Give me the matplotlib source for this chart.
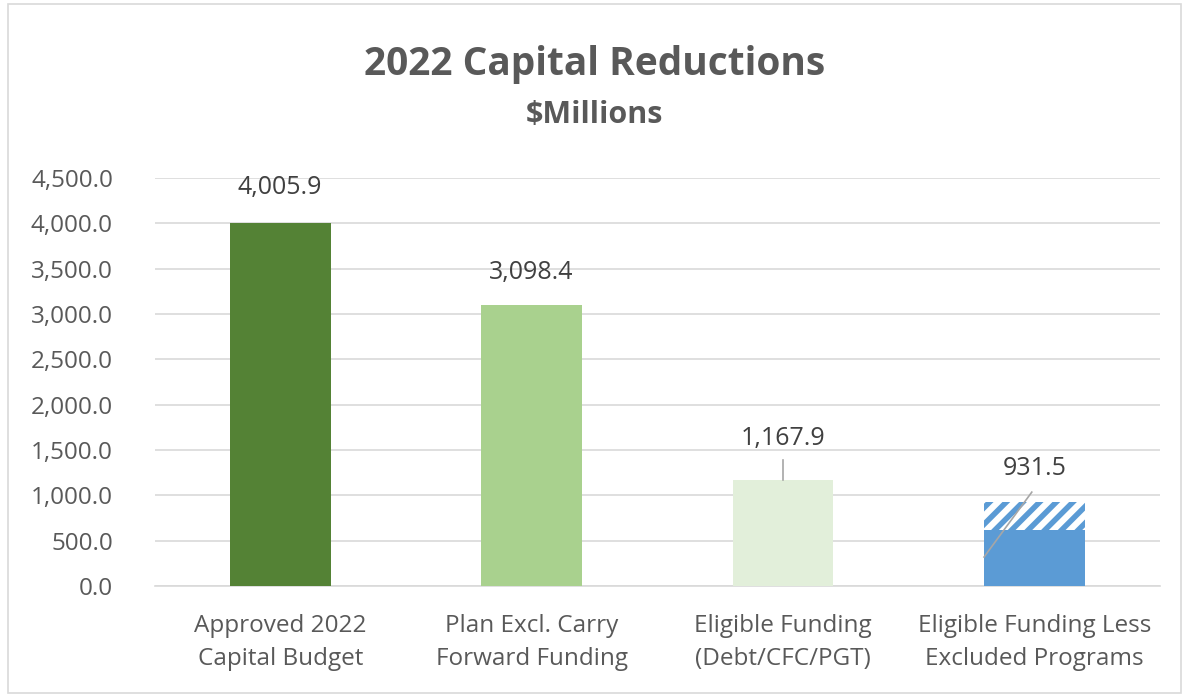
import matplotlib.pyplot as plt
from matplotlib.patches import Rectangle
from matplotlib.ticker import FuncFormatter

# data
categories = ["Approved 2022\nCapital Budget", "Plan Excl. Carry\nForward Funding",
              "Eligible Funding\n(Debt/CFC/PGT)", "Eligible Funding Less\nExcluded Programs"]
totals = [4005.9, 3098.4, 1167.9, 931.5]
solid_part = [4005.9, 3098.4, 1167.9, 620.0]
hatched_part = [0, 0, 0, 311.5]
bar_colors = ["#548235", "#A9D18E", "#E2EFDA", "#5B9BD5"]
yticks = [0, 500, 1000, 1500, 2000, 2500, 3000, 3500, 4000, 4500]

plt.rcParams['font.family'] = ['Open Sans', 'DejaVu Sans']
plt.rcParams['hatch.linewidth'] = 4.5
plt.rcParams['hatch.color'] = "white"

fig = plt.figure(figsize=(11.89, 6.96), dpi=100)
ax = fig.add_axes([0.130, 0.158, 0.8456, 0.586])

x = list(range(len(categories)))
ax.bar(x, solid_part, width=0.4, color=bar_colors, zorder=3)
ax.bar(x, hatched_part, width=0.4, bottom=solid_part, color="#5B9BD5",
       hatch="//", edgecolor="white", linewidth=0, zorder=3)

ax.set_xlim(-0.5, 3.5)
ax.set_ylim(0, 4500)
ax.set_yticks(yticks)
ax.yaxis.set_major_formatter(FuncFormatter(lambda v, p: "{:,.1f}".format(v)))
ax.set_xticks(x)
ax.set_xticklabels(categories, fontsize=17.5, color="#595959", linespacing=1.5)
ax.tick_params(axis="y", labelsize=17.5, labelcolor="#595959", length=0, pad=30)
ax.tick_params(axis="x", length=0, pad=20)
ax.grid(axis="y", color="#D9D9D9", linewidth=1.2, zorder=0)
for s in ["top", "right", "left"]:
    ax.spines[s].set_visible(False)
ax.spines["bottom"].set_color("#D9D9D9")
ax.spines["bottom"].set_linewidth(1.2)

# data labels
label_offsets = [390, 365, 455, 370]
for i, t in enumerate(totals):
    ax.text(i, t + label_offsets[i], "{:,.1f}".format(t), ha="center", va="center",
            fontsize=18, color="#404040", zorder=4)

# leader lines
ax.plot([2, 2], [1167.9, 1390], color="#A6A6A6", linewidth=1.2, zorder=4)
ax.plot([2.8, 2.99], [320, 1036], color="#A6A6A6", linewidth=1.2, zorder=4)

fig.text(0.5, 0.908, "2022 Capital Reductions", ha="center", va="center",
         fontsize=28, fontweight="bold", color="#595959")
fig.text(0.5, 0.835, "$Millions", ha="center", va="center",
         fontsize=22, fontweight="bold", color="#595959")

fig.patches.append(Rectangle((0.007, 0.004), 0.986, 0.99, transform=fig.transFigure,
                             fill=False, edgecolor="#D9D9D9", linewidth=1.2))

fig.savefig("out.png", dpi=100)
